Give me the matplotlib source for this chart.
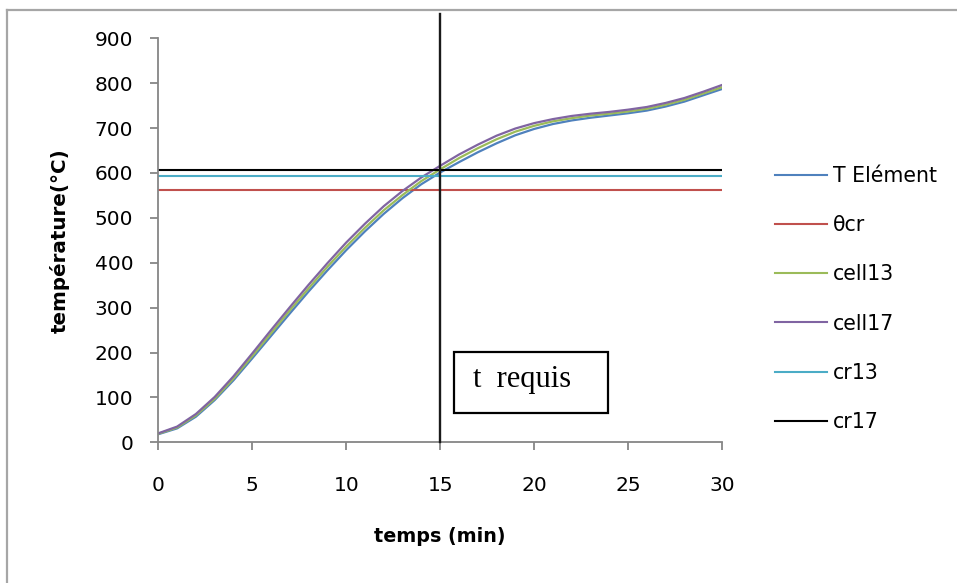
import matplotlib
matplotlib.use("Agg")
import matplotlib.pyplot as plt
from matplotlib.lines import Line2D
from matplotlib.patches import Rectangle

plt.rcParams['font.family'] = ['DejaVu Sans']

# time in minutes
temps = list(range(0, 31))

# simulated temperatures (°C)
t_element = [18, 31, 57, 94, 138, 187, 237, 287, 336, 383, 428, 470, 509, 544, 575,
             601, 624, 646, 666, 684, 698, 709, 717, 723, 728, 733, 739, 748, 759, 773, 787]
cell13 = [19, 33, 60, 97, 142, 192, 243, 294, 343, 391, 436, 478, 517, 551, 582,
          608, 633, 655, 675, 692, 705, 715, 722, 728, 732, 737, 743, 752, 763, 777, 791]
cell17 = [20, 35, 63, 101, 147, 198, 250, 301, 351, 399, 445, 487, 526, 560, 590,
          616, 641, 663, 683, 699, 711, 720, 727, 732, 736, 741, 747, 756, 767, 781, 796]

# critical temperatures (°C)
theta_cr = 561
cr13 = 593
cr17 = 606

# required time (min)
t_requis = 15

x_ticks = [0, 5, 10, 15, 20, 25, 30]
y_ticks = [0, 100, 200, 300, 400, 500, 600, 700, 800, 900]

W, H = 957, 583
fig = plt.figure(figsize=(W / 100, H / 100), dpi=100)

# chart frame
frame_kw = dict(color='#a6a6a6', lw=1.6, transform=fig.transFigure)
fig.add_artist(Line2D([7.5 / W, 7.5 / W], [0, 1 - 10 / H], **frame_kw))
fig.add_artist(Line2D([7.5 / W, 1], [1 - 10 / H, 1 - 10 / H], **frame_kw))

x0, x1 = 158.3, 722.0
y_top, y_bot = 38.3, 442.3
ax = fig.add_axes([x0 / W, 1 - y_bot / H, (x1 - x0) / W, (y_bot - y_top) / H])

c_blue = '#4F81BD'
c_red = '#C0504D'
c_green = '#9BBB59'
c_purple = '#8064A2'
c_aqua = '#4BACC6'

lw_curve = 1.6
ax.plot(temps, t_element, color=c_blue, lw=lw_curve, label='T Elément')
ax.plot([temps[0], temps[-1]], [theta_cr, theta_cr], color=c_red, lw=1.5, label='θcr')
ax.plot(temps, cell13, color=c_green, lw=lw_curve, label='cell13')
ax.plot(temps, cell17, color=c_purple, lw=lw_curve, label='cell17')
ax.plot([temps[0], temps[-1]], [cr13, cr13], color=c_aqua, lw=1.5, label='cr13')
ax.plot([temps[0], temps[-1]], [cr17, cr17], color='#000000', lw=1.5, label='cr17')

# required-time marker, reaching above the plot area
ax.plot([t_requis, t_requis], [0, 955], color='#1a1a1a', lw=1.7, clip_on=False, zorder=5)

ax.set_xlim(0, 30)
ax.set_ylim(0, 900)
ax.set_xticks(x_ticks)
ax.set_yticks(y_ticks)
for s in ('top', 'right'):
    ax.spines[s].set_visible(False)
for s in ('left', 'bottom'):
    ax.spines[s].set_color('#868686')
    ax.spines[s].set_linewidth(1.3)
ax.tick_params(axis='both', direction='out', length=6, width=1.3, color='#868686',
               labelsize=14.5, labelcolor='#000000')
ax.tick_params(axis='y', pad=12)
ax.tick_params(axis='x', pad=18)

ax.set_xlabel('temps (min)', fontsize=13.8, fontweight='bold', labelpad=23)
ax.set_ylabel('température(°C)', fontsize=14.3, fontweight='bold', labelpad=18)

leg = ax.legend(loc='upper left', bbox_to_anchor=(775 / W, 1 - 166 / H),
                bbox_transform=fig.transFigure, frameon=False, fontsize=14.8,
                handlelength=2.55, handletextpad=0.25, labelspacing=1.42,
                borderpad=0, borderaxespad=0)
for h in leg.get_lines():
    h.set_linewidth(1.5)

# annotation box
fig.add_artist(Rectangle((454 / W, 1 - 412.7 / H), (608 - 454) / W, (412.7 - 352.3) / H,
                         transform=fig.transFigure, fill=False, edgecolor='#000000', lw=1.6))
fig.text(473 / W, 1 - 387 / H, 't  requis', fontsize=22, family='Liberation Serif',
         ha='left', va='baseline', color='#000000')

fig.savefig('out.png', dpi=100)
